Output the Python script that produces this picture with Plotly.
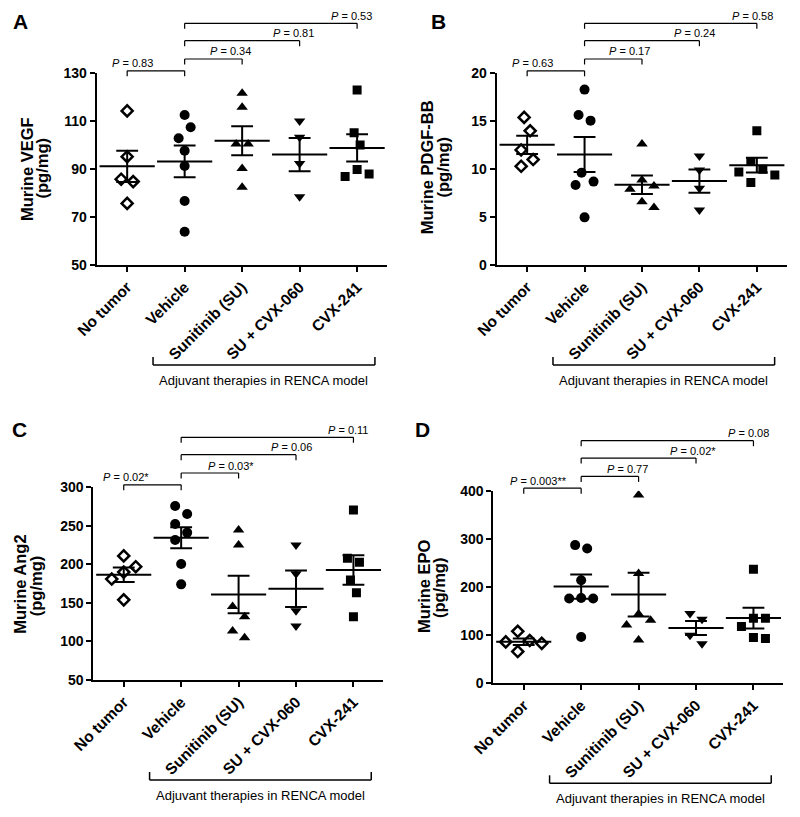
import numpy as np
import plotly.graph_objects as go

# ---------------- data ----------------
categories = ["No tumor", "Vehicle", "Sunitinib (SU)", "SU + CVX-060", "CVX-241"]

vegf_no_tumor = [114.3, 95.2, 85.8, 84.8, 75.7]
vegf_vehicle = [112.6, 107.5, 102.9, 97.7, 91.3, 76.7, 63.9]
vegf_sunitinib = [121.7, 115.8, 100.5, 100.5, 90.3, 82.4]
vegf_su_cvx060 = [110.1, 103.3, 92.4, 78.5]
vegf_cvx241 = [123.0, 105.2, 100.1, 89.9, 88.0, 86.9]

pdgf_no_tumor = [15.4, 14.0, 12.0, 11.0, 10.3]
pdgf_vehicle = [18.3, 15.65, 15.06, 9.63, 8.7, 8.35, 4.97]
pdgf_sunitinib = [12.63, 8.87, 8.24, 7.9, 6.6, 6.0]
pdgf_su_cvx060 = [11.37, 9.9, 8.0, 5.74]
pdgf_cvx241 = [14.0, 10.8, 10.0, 9.7, 9.4, 8.6]

ang2_no_tumor = [211, 197, 190, 181, 154]
ang2_vehicle = [275.8, 265.4, 252.4, 241.2, 231.7, 200.5, 174.1]
ang2_sunitinib = [244.6, 225.2, 145.2, 132.2, 113.6, 104.9]
ang2_su_cvx060 = [225, 188, 140, 120]
ang2_cvx241 = [270.6, 207.9, 202.7, 179.8, 163.3, 132.2]

epo_no_tumor = [108, 89, 86, 83, 66]
epo_vehicle = [287, 280, 214, 177, 176, 176, 96]
epo_sunitinib = [391, 228, 144, 131, 121, 90]
epo_su_cvx060 = [145, 133, 100, 82]
epo_cvx241 = [237, 135, 135, 118, 93, 95]

p_vegf = ["0.83", "0.34", "0.81", "0.53"]
p_pdgf = ["0.63", "0.17", "0.24", "0.58"]
p_ang2 = ["0.02*", "0.03*", "0.06", "0.11"]
p_epo = ["0.003**", "0.77", "0.02*", "0.08"]

yticks_vegf = [50, 70, 90, 110, 130]
yticks_pdgf = [0, 5, 10, 15, 20]
yticks_ang2 = [50, 100, 150, 200, 250, 300]
yticks_epo = [0, 100, 200, 300, 400]

comparisons = [(0, 1), (1, 2), (1, 3), (1, 4)]

# ---------------- layout / style ----------------
W, H = 800, 817
FONT = "Liberation Sans, Arial, sans-serif"
XR = [-0.53, 4.52]

panels = [
    dict(letter="A", t1="Murine VEGF", groups=[vegf_no_tumor, vegf_vehicle, vegf_sunitinib, vegf_su_cvx060, vegf_cvx241],
         yr=[50, 130], yt=yticks_vegf, box=(96.7, 387.0, 73.3, 265.0), p=p_vegf, px=[0.10, 1.79, 2.90, 3.90],
         letter_xy=(20, 21), t1xy=(27, 169), t2xy=(42.2, 168.3)),
    dict(letter="B", t1="Murine PDGF-BB", groups=[pdgf_no_tumor, pdgf_vehicle, pdgf_sunitinib, pdgf_su_cvx060, pdgf_cvx241],
         yr=[0, 20], yt=yticks_pdgf, box=(496.7, 786.7, 73.3, 265.0), p=p_pdgf, px=[0.09, 1.79, 2.92, 3.92],
         letter_xy=(439, 21), t1xy=(426.7, 167.5), t2xy=(442, 167.5)),
    dict(letter="C", t1="Murine Ang2", groups=[ang2_no_tumor, ang2_vehicle, ang2_sunitinib, ang2_su_cvx060, ang2_cvx241],
         yr=[50, 300], yt=yticks_ang2, box=(93.3, 383.3, 487.3, 680.0), p=p_ang2, px=[0.04, 1.86, 2.92, 3.90],
         letter_xy=(19, 429), t1xy=(19.7, 584), t2xy=(35.5, 586.7)),
    dict(letter="D", t1="Murine EPO", groups=[epo_no_tumor, epo_vehicle, epo_sunitinib, epo_su_cvx060, epo_cvx241],
         yr=[0, 400], yt=yticks_epo, box=(493.3, 783.3, 490.7, 683.3), p=p_epo, px=[0.25, 1.81, 2.94, 3.92],
         letter_xy=(422.5, 429), t1xy=(423.3, 585.8), t2xy=(438.8, 588.3)),
]

marker_styles = [
    dict(symbol="diamond", size=8.5, color="white", line=dict(color="black", width=2.5)),
    dict(symbol="circle", size=10, color="black", line=dict(width=0)),
    dict(symbol="triangle-up", size=10, color="black", line=dict(width=0)),
    dict(symbol="triangle-down", size=10, color="black", line=dict(width=0)),
    dict(symbol="square", size=9, color="black", line=dict(width=0)),
]

BRACKET_LEVELS = [2.5, 14.3, 32.6, 50.0]   # px above plot top
BRACKET_DROP = 5.5
MEAN_HALF = 0.48
CAP_HALF = 0.19


def swarm(vals, ppu, spacing_px, Dx=11.0, Dy=13.5, step=6.0):
    vals = np.asarray(vals, dtype=float)
    order = np.argsort(-vals, kind="stable")
    cands = [0.0]
    for k in range(1, 12):
        cands += [k * step, -k * step]
    placed = []
    offs = np.zeros(len(vals))
    for idx in order:
        ypx = vals[idx] * ppu
        chosen = 0.0
        for c in cands:
            if all(((c - xo) / Dx) ** 2 + ((ypx - yp) / Dy) ** 2 >= 1 for yp, xo in placed):
                chosen = c
                break
        placed.append((ypx, chosen))
        offs[idx] = chosen
    clusters, cur = [], [order[0]]
    for a, b in zip(order[:-1], order[1:]):
        if abs(vals[a] - vals[b]) * ppu < Dy:
            cur.append(b)
        else:
            clusters.append(cur)
            cur = [b]
    clusters.append(cur)
    for cl in clusters:
        if len(cl) > 1:
            mid = (max(offs[i] for i in cl) + min(offs[i] for i in cl)) / 2
            for i in cl:
                offs[i] -= mid
    return offs / spacing_px


fig = go.Figure()
shapes, annotations = [], []

for k, pn in enumerate(panels):
    sfx = "" if k == 0 else str(k + 1)
    xa, ya = "x" + sfx, "y" + sfx
    x0, x1, yt_px, yb_px = pn["box"]
    plot_h = yb_px - yt_px
    ppu = plot_h / (pn["yr"][1] - pn["yr"][0])
    spacing = (x1 - x0) / (XR[1] - XR[0])

    for g, vals in enumerate(pn["groups"]):
        offs = swarm(vals, ppu, spacing)
        fig.add_trace(go.Scatter(
            x=g + offs, y=vals, mode="markers", xaxis=xa, yaxis=ya,
            marker=marker_styles[g], showlegend=False, hoverinfo="y"))

    lx, ly = [], []
    for g, vals in enumerate(pn["groups"]):
        v = np.asarray(vals, dtype=float)
        m = v.mean()
        s = v.std(ddof=1) / np.sqrt(len(v))
        lx += [g - MEAN_HALF, g + MEAN_HALF, None]
        ly += [m, m, None]
        lx += [g, g, None]
        ly += [m - s, m + s, None]
        lx += [g - CAP_HALF, g + CAP_HALF, None, g - CAP_HALF, g + CAP_HALF, None]
        ly += [m + s, m + s, None, m - s, m - s, None]
    fig.add_trace(go.Scatter(x=lx, y=ly, mode="lines", xaxis=xa, yaxis=ya,
                             line=dict(color="black", width=2), showlegend=False, hoverinfo="skip"))

    dom_x = [x0 / W, x1 / W]
    dom_y = [1 - yb_px / H, 1 - yt_px / H]
    fig.update_layout(**{
        "xaxis" + sfx: dict(domain=dom_x, anchor=ya, range=XR, tickmode="array", tickvals=list(range(5)),
                            ticktext=categories, tickangle=-45, ticks="outside", ticklen=5, tickwidth=2,
                            tickcolor="black", showline=True, linewidth=2, linecolor="black",
                            showgrid=False, zeroline=False, automargin=False,
                            tickfont=dict(family=FONT, size=15.5, color="black", weight="bold")),
        "yaxis" + sfx: dict(domain=dom_y, anchor=xa, range=pn["yr"], tickmode="array", tickvals=pn["yt"],
                            ticks="outside", ticklen=5, tickwidth=2, tickcolor="black", showline=True,
                            linewidth=2, linecolor="black", showgrid=False, zeroline=False, automargin=False,
                            tickfont=dict(family=FONT, size=14, color="black", weight="bold")),
    })

    ydom = ya + " domain"
    for (a, b), lev, ptxt, pxc in zip(comparisons, BRACKET_LEVELS, pn["p"], pn["px"]):
        yl = 1 + lev / plot_h
        yd = 1 + (lev - BRACKET_DROP) / plot_h
        ln = dict(color="black", width=1.2)
        shapes.append(dict(type="line", xref=xa, yref=ydom, x0=a, x1=b, y0=yl, y1=yl, line=ln))
        shapes.append(dict(type="line", xref=xa, yref=ydom, x0=a, x1=a, y0=yd, y1=yl, line=ln))
        shapes.append(dict(type="line", xref=xa, yref=ydom, x0=b, x1=b, y0=yd, y1=yl, line=ln))
        annotations.append(dict(xref=xa, yref=ydom, x=pxc, y=1 + (lev + 0.5) / plot_h,
                                text="<i>P</i> = " + ptxt, showarrow=False, xanchor="center",
                                yanchor="bottom", borderpad=0,
                                font=dict(family=FONT, size=11, color="black")))

    yb = -100.0 / plot_h
    ybt = -92.0 / plot_h
    ln = dict(color="black", width=1.5)
    shapes.append(dict(type="line", xref=xa, yref=ydom, x0=0.45, x1=4.31, y0=yb, y1=yb, line=ln))
    shapes.append(dict(type="line", xref=xa, yref=ydom, x0=0.45, x1=0.45, y0=yb, y1=ybt, line=ln))
    shapes.append(dict(type="line", xref=xa, yref=ydom, x0=4.31, x1=4.31, y0=yb, y1=ybt, line=ln))
    annotations.append(dict(xref=xa, yref=ydom, x=2.38, y=-115.0 / plot_h,
                            text="Adjuvant therapies in RENCA model", showarrow=False,
                            xanchor="center", yanchor="middle",
                            font=dict(family=FONT, size=13, color="black")))

    lx_, ly_ = pn["letter_xy"]
    annotations.append(dict(xref="paper", yref="paper", x=lx_ / W, y=1 - ly_ / H, text="<b>%s</b>" % pn["letter"],
                            showarrow=False, xanchor="center", yanchor="middle",
                            font=dict(family=FONT, size=21, color="black")))
    for txt, (tx, ty) in ((pn["t1"], pn["t1xy"]), ("(pg/mg)", pn["t2xy"])):
        annotations.append(dict(xref="paper", yref="paper", x=tx / W, y=1 - ty / H, text="<b>%s</b>" % txt,
                                textangle=-90, showarrow=False, xanchor="center", yanchor="middle",
                                font=dict(family=FONT, size=16.5, color="black")))

fig.update_layout(
    width=W, height=H, autosize=False,
    margin=dict(l=0, r=0, t=0, b=0, pad=0, autoexpand=False),
    paper_bgcolor="white", plot_bgcolor="white",
    font=dict(family=FONT, color="black"),
    shapes=shapes, annotations=annotations, showlegend=False,
)

fig.write_html("out.html",
               config={"displayModeBar": False},
               post_script="document.body.style.margin='0';document.body.style.padding='0';"
                           "document.body.style.overflow='hidden';")
